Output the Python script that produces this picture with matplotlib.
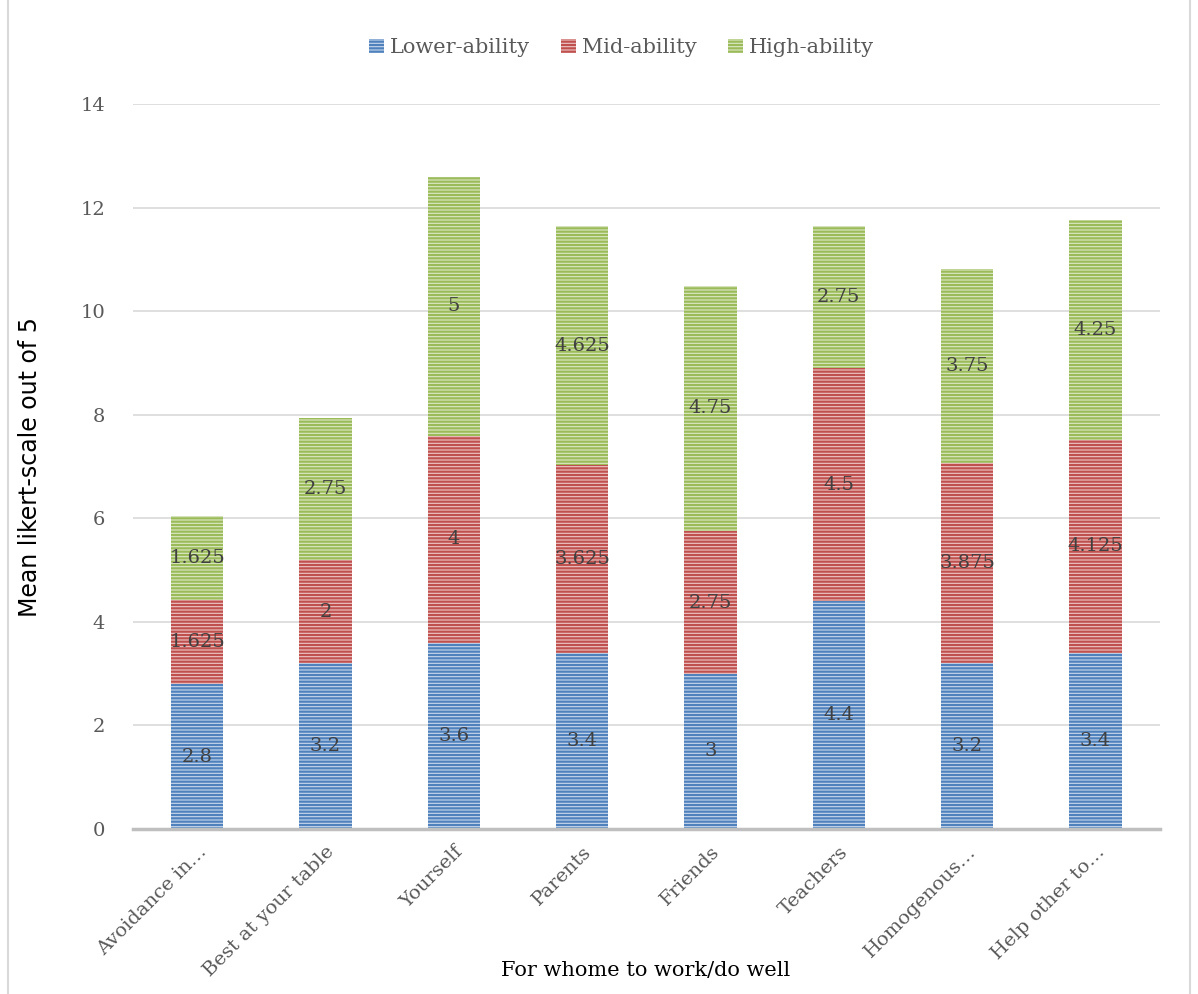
import matplotlib.pyplot as plt
import numpy as np
from matplotlib.patches import Rectangle

# data
categories = ['Avoidance in…', 'Best at your table', 'Yourself', 'Parents',
              'Friends', 'Teachers', 'Homogenous…', 'Help other to…']
lower = [2.8, 3.2, 3.6, 3.4, 3, 4.4, 3.2, 3.4]
mid = [1.625, 2, 4, 3.625, 2.75, 4.5, 3.875, 4.125]
high = [1.625, 2.75, 5, 4.625, 4.75, 2.75, 3.75, 4.25]
series_names = ['Lower-ability', 'Mid-ability', 'High-ability']

colors = ['#4F81BD', '#C0504D', '#9BBB59']
light = ['#C9D8EC', '#ECC8C7', '#DDE9C8']

plt.rcParams['font.family'] = ['DejaVu Serif']
plt.rcParams['hatch.linewidth'] = 1.6

fig = plt.figure(figsize=(11.98, 9.94), dpi=100)
ax = fig.add_axes([0.111, 0.166, 0.857, 0.729])

x = np.arange(len(categories))
bottom = np.zeros(len(categories))
for vals, name, c, lc in zip([lower, mid, high], series_names, colors, light):
    vals = np.array(vals)
    ax.bar(x, vals, 0.41, bottom=bottom, facecolor=lc, edgecolor=c,
           hatch='-----', linewidth=0, label=name, zorder=2)
    for xi, b, v in zip(x, bottom, vals):
        ax.text(xi, b + v / 2, f'{v:g}', ha='center', va='center',
                fontsize=14, color='#404040', zorder=3)
    bottom += vals

ax.set_xlim(-0.5, len(categories) - 0.5)
ax.set_ylim(0, 14)
ax.set_yticks(range(0, 15, 2))
ax.yaxis.grid(True, color='#D9D9D9', linewidth=1.2, zorder=0)
ax.set_axisbelow(True)
for s in ['top', 'right', 'left']:
    ax.spines[s].set_visible(False)
ax.spines['bottom'].set_color('#BFBFBF')
ax.spines['bottom'].set_linewidth(2.5)
ax.tick_params(length=0, labelsize=14, labelcolor='#595959')
ax.tick_params(axis='y', pad=20)
ax.tick_params(axis='x', pad=10)
ax.set_xticks(x)
ax.set_xticklabels(categories, rotation=45, ha='right', rotation_mode='anchor')

ax.set_ylabel('Mean likert-scale out of 5', fontsize=17, family='DejaVu Sans', labelpad=28)
fig.text(0.539, 0.024, 'For whome to work/do well', fontsize=15, ha='center', va='center')

ax.legend(loc='center', bbox_to_anchor=(0.519, 0.952), bbox_transform=fig.transFigure,
          ncol=3, frameon=False, fontsize=15, handlelength=0.7, handleheight=0.7,
          handletextpad=0.3, columnspacing=1.5, labelcolor='#595959')

fig.patches.append(Rectangle((0.007, -0.01), 0.986, 1.02, transform=fig.transFigure,
                             fill=False, edgecolor='#D9D9D9', linewidth=1.5))

fig.savefig('out.png', dpi=100)
